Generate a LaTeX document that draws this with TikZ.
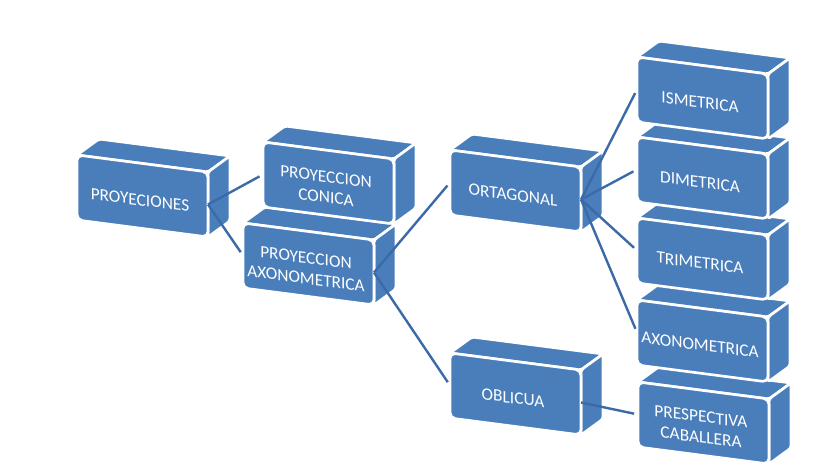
\documentclass[tikz,border=0pt]{standalone}
\usepackage{fontspec}
\setmainfont{Carlito}
\definecolor{boxblue}{RGB}{74,126,187}
\definecolor{lineblue}{RGB}{60,106,168}
\tikzset{
  face/.style={fill=boxblue, draw=white, line width=2pt, line join=round},
  lbl/.style={text=white, font=\fontsize{13}{15.5}\selectfont, align=center, yslant=-0.13, inner sep=0pt},
  conn/.style={draw=lineblue, line width=1.8pt, shorten >=3pt},
}
% #1 name, #2 x, #3 y (front top-left, pixels, y down), #4 text
\newcommand\cuboid[4]{%
  \path[face, rounded corners=2pt] (#2,#3) -- ({#2+22},{#3-16}) -- ({#2+153},{#3+1}) -- ({#2+131},{#3+17}) -- cycle;
  \path[face, rounded corners=2pt] ({#2+131},{#3+17}) -- ({#2+153},{#3+1}) -- ({#2+153},{#3+66}) -- ({#2+131},{#3+82}) -- cycle;
  \path[face, rounded corners=4pt] (#2,#3) -- ({#2+131},{#3+17}) -- ({#2+131},{#3+82}) -- (#2,{#3+65}) -- cycle;
  \node[lbl] (#1) at ({#2+63},{#3+45}) {#4};
  \coordinate (#1-l) at (#2,{#3+32.5});
  \coordinate (#1-r) at ({#2+131},{#3+49.5});
}
\begin{document}
\begin{tikzpicture}[x=0.75pt,y=-0.75pt]
  \useasboundingbox[fill=white] (0,0) rectangle (840,473);
  % left and middle columns
  \cuboid{proy}{77}{155}{PROYECIONES}
  \cuboid{axo}{243}{223}{PROYECCION\\AXONOMETRICA}
  \cuboid{con}{263}{142}{PROYECCION\\CONICA}
  \cuboid{obl}{450}{353}{OBLICUA}
  \cuboid{ort}{450}{150}{ORTAGONAL}
  % right column (bottom first so upper boxes overlap)
  \cuboid{cab}{638}{382}{PRESPECTIVA\\CABALLERA}
  \cuboid{axn}{637}{300}{AXONOMETRICA}
  \cuboid{tri}{637}{218}{TRIMETRICA}
  \cuboid{dim}{637}{137}{DIMETRICA}
  \cuboid{ism}{637}{57}{ISMETRICA}
  % connectors
  \draw[conn] (proy-r) -- (con-l);
  \draw[conn] (proy-r) -- (axo-l);
  \draw[conn] (axo-r) -- (ort-l);
  \draw[conn] (axo-r) -- (obl-l);
  \draw[conn] (ort-r) -- (ism-l);
  \draw[conn] (ort-r) -- (dim-l);
  \draw[conn] (ort-r) -- (tri-l);
  \draw[conn] (ort-r) -- (axn-l);
  \draw[conn] (obl-r) -- (cab-l);
\end{tikzpicture}
\end{document}
